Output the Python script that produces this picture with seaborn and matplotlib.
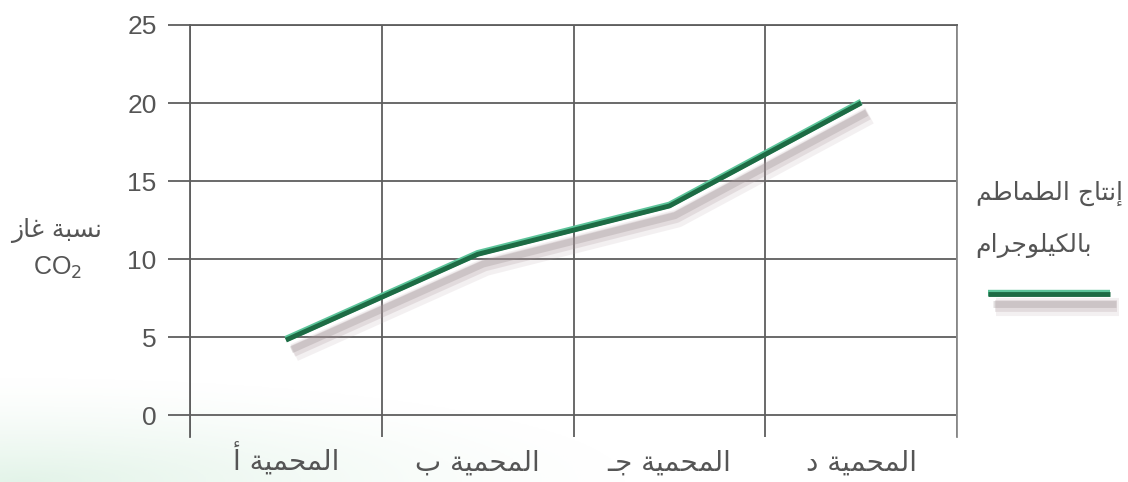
import numpy as np
import pandas as pd
import matplotlib
matplotlib.use("Agg")
import matplotlib.pyplot as plt
import matplotlib.patheffects as pe
import seaborn as sns

# Tomato yield per greenhouse
greenhouses = ["المحمية أ", "المحمية ب", "المحمية جـ", "المحمية د"]
tomato_kg = [4.8, 10.3, 13.4, 20.0]
y_ticks = [0, 5, 10, 15, 20, 25]
y_title = "نسبة غاز"
y_title_sub = "CO$_2$"
series_title = ["إنتاج الطماطم", "بالكيلوجرام"]

# Arabic contextual forms (isolated, final, initial, medial); matplotlib
# does no shaping of its own, so letters are joined here.
FORMS = {
    "\u0627": ("\uFE8D", "\uFE8E"),
    "\u0623": ("\uFE83", "\uFE84"),
    "\u0625": ("\uFE87", "\uFE88"),
    "\u0628": ("\uFE8F", "\uFE90", "\uFE91", "\uFE92"),
    "\u0629": ("\uFE93", "\uFE94"),
    "\u062A": ("\uFE95", "\uFE96", "\uFE97", "\uFE98"),
    "\u062C": ("\uFE9D", "\uFE9E", "\uFE9F", "\uFEA0"),
    "\u062D": ("\uFEA1", "\uFEA2", "\uFEA3", "\uFEA4"),
    "\u062F": ("\uFEA9", "\uFEAA"),
    "\u0631": ("\uFEAD", "\uFEAE"),
    "\u0632": ("\uFEAF", "\uFEB0"),
    "\u0633": ("\uFEB1", "\uFEB2", "\uFEB3", "\uFEB4"),
    "\u0637": ("\uFEC1", "\uFEC2", "\uFEC3", "\uFEC4"),
    "\u063A": ("\uFECD", "\uFECE", "\uFECF", "\uFED0"),
    "\u0643": ("\uFED9", "\uFEDA", "\uFEDB", "\uFEDC"),
    "\u0644": ("\uFEDD", "\uFEDE", "\uFEDF", "\uFEE0"),
    "\u0645": ("\uFEE1", "\uFEE2", "\uFEE3", "\uFEE4"),
    "\u0646": ("\uFEE5", "\uFEE6", "\uFEE7", "\uFEE8"),
    "\u0648": ("\uFEED", "\uFEEE"),
    "\u064A": ("\uFEF1", "\uFEF2", "\uFEF3", "\uFEF4"),
    "\u0640": ("\u0640", "\u0640", "\u0640", "\u0640"),
}


def shape(text):
    out = []
    for i, c in enumerate(text):
        forms = FORMS.get(c)
        if forms is None:
            out.append(c)
            continue
        prev = text[i - 1] if i > 0 else None
        nxt = text[i + 1] if i + 1 < len(text) else None
        join_prev = prev in FORMS and len(FORMS[prev]) == 4
        join_next = nxt in FORMS and len(forms) == 4
        idx = (1 if join_prev else 0) + (2 if join_next else 0)
        out.append(forms[idx])
    return "".join(reversed(out))


sns.set_theme(style="white")
plt.rcParams["font.family"] = ["DejaVu Sans"]

GRID = "#5e5e5e"
TEXT = "#555555"
LINE = "#1d6b44"

fig = plt.figure(figsize=(11.28, 4.82), dpi=100)
fig.patch.set_facecolor("white")

# faint green haze in the lower-left corner
haze_ax = fig.add_axes([0, 0, 1, 1], zorder=-5)
haze_ax.set_axis_off()
yy, xx = np.mgrid[0:1:200j, 0:1:400j]
d = np.sqrt(((xx - 0.02) / 0.55) ** 2 + ((yy - 0.0) / 0.22) ** 2)
alpha = np.clip(1 - d, 0, 1) ** 1.4 * 0.55
rgba = np.zeros((200, 400, 4))
rgba[..., 0] = 0.80
rgba[..., 1] = 0.92
rgba[..., 2] = 0.84
rgba[..., 3] = alpha
haze_ax.imshow(rgba, extent=[0, 1, 0, 1], origin="lower", aspect="auto")
haze_ax.set_xlim(0, 1)
haze_ax.set_ylim(0, 1)

ax = fig.add_axes([190 / 1128, 1 - 437 / 482, 767 / 1128, 412 / 482])
ax.patch.set_alpha(0)

df = pd.DataFrame({"greenhouse": greenhouses, "yield": tomato_kg})
sns.lineplot(data=df, x="greenhouse", y="yield", ax=ax, color=LINE,
             linewidth=3.5, sort=False, zorder=5)
line = ax.get_lines()[0]
line.set_solid_capstyle("butt")
line.set_solid_joinstyle("round")
line.set_path_effects([
    pe.SimpleLineShadow(offset=(6, -9), shadow_color="#b8a4aa", alpha=0.16, linewidth=13),
    pe.SimpleLineShadow(offset=(5, -8), shadow_color="#a8949a", alpha=0.22, linewidth=8.5),
    pe.SimpleLineShadow(offset=(4, -7), shadow_color="#968a8c", alpha=0.28, linewidth=5),
    pe.Stroke(linewidth=4.6, foreground="#5cc49a", offset=(0, 0.8)),
    pe.Normal(),
])

ax.set_xlim(-0.5, len(greenhouses) - 0.5)
ax.set_ylim(-1.41, 25)

# horizontal rules at the y ticks, extending left as tick marks
ax.set_yticks(y_ticks)
ax.set_yticklabels([str(v) for v in y_ticks], fontsize=19, color=TEXT,
                   family=["Liberation Sans", "DejaVu Sans"])
ax.yaxis.grid(True, color=GRID, linewidth=1.3)
ax.tick_params(axis="y", which="major", length=16, width=1.3, color=GRID,
               direction="out", left=True, pad=8)

# vertical rules between greenhouses
ax.set_xticks(range(len(greenhouses)))
ax.set_xticklabels([shape(g) for g in greenhouses], fontsize=20, color=TEXT)
ax.tick_params(axis="x", which="major", length=0, pad=24)
for lbl in ax.get_xticklabels():
    lbl.set_verticalalignment("baseline")
ax.set_xticks(np.arange(-0.5, len(greenhouses), 1.0), minor=True)
ax.xaxis.grid(True, which="minor", color=GRID, linewidth=1.3)
ax.xaxis.grid(False, which="major")
ax.set_xlabel("")
ax.set_ylabel("")

for side in ("left", "right", "top"):
    ax.spines[side].set_visible(True)
    ax.spines[side].set_color(GRID)
    ax.spines[side].set_linewidth(1.3)
ax.spines["bottom"].set_visible(False)
ax.spines["right"].set_color("#8a8a8a")

# y-axis title
fig.text(56 / 1128, 1 - 230 / 482, shape(y_title), fontsize=18, color=TEXT,
         ha="center", va="center")
fig.text(58 / 1128, 1 - 268 / 482, y_title_sub, fontsize=18, color=TEXT,
         ha="center", va="center", family=["Liberation Sans", "DejaVu Sans"])

# series key
leg = ax.legend(handles=[line], labels=[""], title="\n".join(shape(t) for t in series_title),
                loc="center", bbox_to_anchor=(1049 / 1128, 1 - 243 / 482),
                bbox_transform=fig.transFigure, frameon=False, fontsize=14,
                handlelength=6.3, handletextpad=0, title_fontsize=18, borderaxespad=0)
leg.get_title().set_color(TEXT)
leg.get_title().set_linespacing(2.45)
leg._legend_box.sep = 20

fig.savefig("out.png", dpi=100, facecolor="white")
